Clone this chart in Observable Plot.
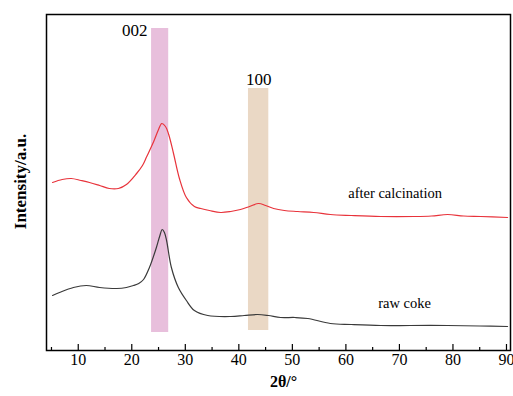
<!DOCTYPE html>
<html>
<head>
<meta charset="utf-8">
<script src="https://cdn.jsdelivr.net/npm/d3@7"></script>
<script src="https://cdn.jsdelivr.net/npm/@observablehq/plot@0.6"></script>
<style>
  html, body { margin: 0; padding: 0; background: #fff; }
  svg, svg text { font-family: "Liberation Serif", "Times New Roman", serif !important; }
</style>
</head>
<body>
<div id="chart"></div>
<script>
// 2θ (degrees) and intensity (a.u., offset stacked) for each pattern
const calcinedAngle = [5.2, 7, 8.7, 10.5, 12.1, 14, 15.8, 17.5, 19, 20.9, 22, 22.8, 24.1, 25, 25.6, 26.3, 26.9, 27.8, 28.9, 30.2, 31.7, 32.9, 34.5, 36.6, 38.5, 40.3, 42, 43.7, 45, 46.5, 48.5, 51, 54, 57.1, 61, 66.5, 72.7, 76, 79, 82, 85.2, 90.2];
const calcinedIntensity = [168, 171, 172, 170, 168, 165, 162, 162, 166, 177, 185, 194, 209, 221, 227, 224, 216, 197, 172, 153, 144, 142, 140, 138, 139, 141, 144, 147, 145, 142, 140, 139, 138, 136, 135, 134, 134, 134.5, 136, 134.5, 134, 133];
const rawAngle = [5.2, 6.5, 9.1, 11.5, 14, 17.2, 19, 20.3, 21.3, 22.2, 23.3, 24.6, 25.2, 25.7, 26.1, 26.5, 27.4, 28.7, 30.2, 31.7, 34.2, 38.5, 41, 43.5, 45.5, 47.8, 50.5, 52.9, 57.1, 61, 66.5, 72, 79, 85, 90.2];
const rawIntensity = [55, 58, 63, 65, 63, 62, 63, 65, 67, 71, 83, 103, 114, 121, 118, 110, 83, 63, 50, 40, 35, 34, 35, 36, 35, 33, 33, 32, 27, 26, 25, 25, 25, 24.5, 24];

// highlighted reflections
const bandNames = ["002", "100"];
const bandStart = [23.7, 41.8];
const bandEnd = [26.9, 45.6];
const bandBottom = [18, 20];
const bandTop = [322, 262];
const bandColors = ["#e8bfdc", "#ead8c5"];

// series labels
const seriesNames = ["after calcination", "raw coke"];
const seriesLabelX = [69.2, 70.95];
const seriesLabelY = [157, 47];

const majorTicks = [10, 20, 30, 40, 50, 60, 70, 80, 90];
const minorTicks = [5, 15, 25, 35, 45, 55, 65, 75, 85];

const calcined = calcinedAngle.map((a, i) => ({angle: a, intensity: calcinedIntensity[i]}));
const raw = rawAngle.map((a, i) => ({angle: a, intensity: rawIntensity[i]}));
const bands = bandNames.map((n, i) => ({name: n, x1: bandStart[i], x2: bandEnd[i], y1: bandBottom[i], y2: bandTop[i], color: bandColors[i]}));
const labels = seriesNames.map((n, i) => ({name: n, x: seriesLabelX[i], y: seriesLabelY[i]}));

const font = "'Liberation Serif', 'Times New Roman', serif";

const chart = Plot.plot({
  width: 513,
  height: 396,
  marginLeft: 46,
  marginRight: 3,
  marginTop: 14,
  marginBottom: 46,
  style: {fontFamily: font, background: "#fff", color: "#000"},
  x: {domain: [4.07, 90.75]},
  y: {domain: [0, 336], axis: null},
  marks: [
    Plot.rectY(bands, {x1: "x1", x2: "x2", y1: "y1", y2: "y2", fill: "color"}),
    Plot.line(calcined, {x: "angle", y: "intensity", stroke: "#e8333b", strokeWidth: 1.2, curve: "catmull-rom"}),
    Plot.line(raw, {x: "angle", y: "intensity", stroke: "#3a3a3a", strokeWidth: 1.2, curve: "catmull-rom"}),
    Plot.text(bands.slice(0, 1), {x: "x1", y: "y2", text: "name", textAnchor: "end", dx: -4, dy: 2, fontSize: 17, fontFamily: font, fill: "#000"}),
    Plot.text(bands.slice(1), {x: d => (d.x1 + d.x2) / 2, y: "y2", text: "name", dy: -9, fontSize: 17, fontFamily: font, fill: "#000"}),
    Plot.text(labels, {x: "x", y: "y", text: "name", fontSize: 14.5, fontFamily: font, fill: "#000"}),
    Plot.ruleX(majorTicks, {x: d => d, y1: 0, y2: 6, stroke: "#000", strokeWidth: 1.2}),
    Plot.ruleX(minorTicks, {x: d => d, y1: 0, y2: 3, stroke: "#000", strokeWidth: 1.2}),
    Plot.axisX(majorTicks, {tickSize: 0, tickPadding: 3, fontSize: 16, fontFamily: font, label: null, fill: "#000"}),
    Plot.text(["2θ/°"], {frameAnchor: "bottom", lineAnchor: "middle", textAnchor: "middle", dx: 5, dy: 31.5, fontSize: 16, fontWeight: "bold", fontFamily: font, fill: "#000"}),
    Plot.text(["Intensity/a.u."], {frameAnchor: "left", textAnchor: "middle", lineAnchor: "middle", rotate: -90, dx: -26, dy: -1, fontSize: 17, fontWeight: "bold", fontFamily: font, fill: "#000"}),
    Plot.frame({stroke: "#000", strokeWidth: 1.5})
  ]
});
document.getElementById("chart").appendChild(chart);
</script>
</body>
</html>
